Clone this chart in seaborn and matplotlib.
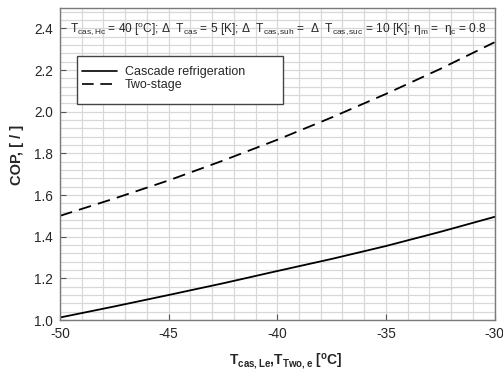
import numpy as np
import pandas as pd
import matplotlib
matplotlib.use("Agg")
import matplotlib.pyplot as plt
from matplotlib.patches import Rectangle
import seaborn as sns

# evaporation temperature [°C]
t_evap = [-50, -47.5, -45, -42.5, -40, -37.5, -35, -32.5, -30]
cop_cascade = [1.012, 1.065, 1.12, 1.176, 1.235, 1.293, 1.355, 1.423, 1.495]
cop_two_stage = [1.50, 1.583, 1.67, 1.765, 1.865, 1.972, 2.085, 2.205, 2.333]
series_names = ["Cascade refrigeration", "Two-stage"]
y_ticks = [1.0, 1.2, 1.4, 1.6, 1.8, 2.0, 2.2, 2.4]
x_ticks = [-50, -45, -40, -35, -30]

df = pd.concat([
    pd.DataFrame({"T": t_evap, "COP": cop_cascade, "System": series_names[0]}),
    pd.DataFrame({"T": t_evap, "COP": cop_two_stage, "System": series_names[1]}),
])

sns.set_theme(style="white")
plt.rcParams["font.family"] = ["Liberation Sans", "DejaVu Sans"]
plt.rcParams["axes.unicode_minus"] = False
plt.rcParams["mathtext.fontset"] = "custom"
plt.rcParams["mathtext.rm"] = "Liberation Sans"
plt.rcParams["mathtext.it"] = "Liberation Sans"
plt.rcParams["mathtext.bf"] = "Liberation Sans:bold"

W, H = 503, 375
fig = plt.figure(figsize=(5.03, 3.75), dpi=100)
ax = fig.add_axes([60 / W, 1 - 320 / H, 434.5 / W, 312.5 / H])

sns.lineplot(data=df, x="T", y="COP", style="System", color="black",
             dashes={series_names[0]: "", series_names[1]: (7, 4)},
             linewidth=1.3, ax=ax)

ax.set_xlim(-50, -30)
ax.set_ylim(1.0, 2.5)
ax.set_xticks(x_ticks)
ax.set_xticklabels([str(v) for v in x_ticks])
ax.set_yticks(y_ticks)
ax.set_yticklabels([f"{v:.1f}" for v in y_ticks])
ax.set_xticks(np.arange(-50, -29, 1), minor=True)
ax.set_yticks(np.arange(1.0, 2.5, 0.04), minor=True)
ax.grid(which="both", color="#d8d8d8", linewidth=0.9)
ax.set_axisbelow(True)
ax.tick_params(which="major", direction="in", length=4, width=0.8,
               color="#555555", labelsize=9.8, pad=5,
               bottom=True, left=True)
ax.tick_params(which="minor", length=0)
for s in ax.spines.values():
    s.set_color("#7a7a7a")
    s.set_linewidth(1.0)

ax.set_xlabel(r"$\mathbf{T_{cas,Le}}$,$\mathbf{T_{Two,e}}$ [$\mathbf{^{o}}$C]",
              fontsize=10, fontweight="bold")
ax.xaxis.set_label_coords(0.519, -0.102)
ax.set_ylabel("COP, [ / ]", fontsize=10.5, fontweight="bold")
ax.yaxis.set_label_coords(-0.083, 0.528)

ax.text(0.503, 0.93,
        r"$\mathregular{T_{cas,Hc}}$ = 40 [$\mathregular{^{o}}$C]; $\Delta$  $\mathregular{T_{cas}}$ = 5 [K]; "
        r"$\Delta$  $\mathregular{T_{cas,suh}}$ =  $\Delta$  $\mathregular{T_{cas,suc}}$ = 10 [K]; "
        r"$\mathregular{\eta_{m}}$ =  $\mathregular{\eta_{c}}$ = 0.8",
        transform=ax.transAxes, ha="center", va="center", fontsize=8.6)

# legend box (wider than the entries, as in the reference)
box = Rectangle((77 / W, 1 - 104 / H), 206 / W, 48 / H, transform=fig.transFigure,
                facecolor="white", edgecolor="#444444", linewidth=1.0, zorder=4)
ax.add_patch(box)
leg = ax.legend(loc="center left", bbox_to_anchor=(82 / W, 1 - 78.5 / H),
                bbox_transform=fig.transFigure, fontsize=9, frameon=False,
                handlelength=2.8, handletextpad=0.65, labelspacing=0.1,
                borderpad=0, borderaxespad=0)
leg.set_zorder(5)
for h in leg.get_lines():
    h.set_linewidth(1.2)

fig.savefig("out.png", dpi=100)
